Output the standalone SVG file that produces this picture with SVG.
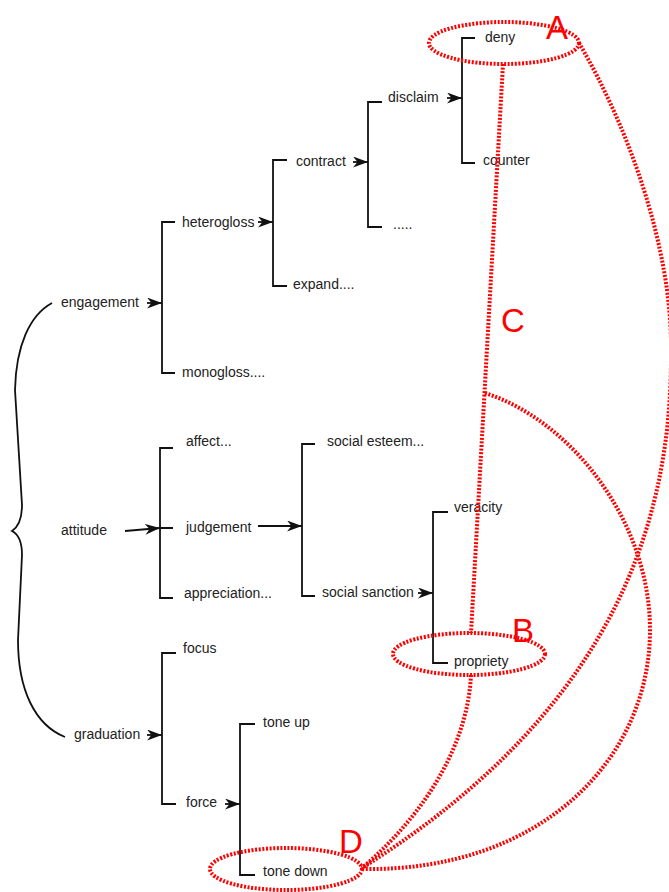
<svg xmlns="http://www.w3.org/2000/svg" width="669" height="892" viewBox="0 0 669 892">
  <style>
    .lbl { font-family: "Liberation Sans", Arial, sans-serif; font-size: 14px; fill: #222; }
    .br { fill: none; stroke: #111; stroke-width: 1.8; }
    .arr { fill: none; stroke: #111; stroke-width: 1.8; marker-end: url(#head); }
    .dot { fill: none; stroke: #ff0000; stroke-width: 4; stroke-dasharray: 2 1.6; }
    .tag { font-family: "Liberation Sans", Arial, sans-serif; font-size: 33px; fill: #ff0000; }
  </style>
  <defs>
    <marker id="head" viewBox="0 0 15 11" markerWidth="15" markerHeight="11" refX="15" refY="5.5" orient="auto" markerUnits="userSpaceOnUse">
      <path d="M0,0 L15,5.5 L0,11 L4.5,5.5 Z" fill="#111"/>
    </marker>
  </defs>
  <rect width="669" height="892" fill="#fff"/>

  <!-- brace joining the three systems -->
  <path class="br" d="M52,303 C30,315 16,345 15,390 L22,505 C22,520 18,527 12,531 C18,534 22,541 22,555 L18,640 C18,690 35,725 65,737"/>

  <!-- engagement branch -->
  <g id="engagement"><text class="lbl" x="61" y="307">engagement</text></g>
  <g id="heterogloss"><text class="lbl" x="182" y="227">heterogloss</text></g>
  <g id="monogloss"><text class="lbl" x="182" y="377">monogloss....</text></g>
  <g id="contract"><text class="lbl" x="296" y="166">contract</text></g>
  <g id="expand"><text class="lbl" x="293" y="289">expand....</text></g>
  <g id="disclaim"><text class="lbl" x="388" y="102">disclaim</text></g>
  <g id="more"><text class="lbl" x="393" y="229">.....</text></g>
  <g id="deny"><text class="lbl" x="485" y="42">deny</text></g>
  <g id="counter"><text class="lbl" x="483" y="165">counter</text></g>

  <!-- attitude branch -->
  <g id="attitude"><text class="lbl" x="61" y="535">attitude</text></g>
  <g id="affect"><text class="lbl" x="186" y="446">affect...</text></g>
  <g id="judgement"><text class="lbl" x="186" y="532">judgement</text></g>
  <g id="appreciation"><text class="lbl" x="184" y="598">appreciation...</text></g>
  <g id="social-esteem"><text class="lbl" x="327" y="446">social esteem...</text></g>
  <g id="social-sanction"><text class="lbl" x="322" y="597">social sanction</text></g>
  <g id="veracity"><text class="lbl" x="454" y="512">veracity</text></g>
  <g id="propriety"><text class="lbl" x="454" y="666">propriety</text></g>

  <!-- graduation branch -->
  <g id="graduation"><text class="lbl" x="74" y="739">graduation</text></g>
  <g id="focus"><text class="lbl" x="183" y="653">focus</text></g>
  <g id="force"><text class="lbl" x="186" y="807">force</text></g>
  <g id="tone-up"><text class="lbl" x="263" y="727">tone up</text></g>
  <g id="tone-down"><text class="lbl" x="263" y="876">tone down</text></g>

  <!-- system brackets and entry arrows -->
  <g id="connectors">
    <path class="br" d="M175,222 H162 V373 H175"/>
    <path class="br" d="M287,160 H273 V286 H287"/>
    <path class="br" d="M382,102 H368 V227 H382"/>
    <path class="br" d="M475,38 H462 V163 H475"/>
    <path class="br" d="M173,448 H160 V598 H173 M160,528 H173"/>
    <path class="br" d="M315,444 H302 V596 H315"/>
    <path class="br" d="M448,512 H433 V663 H448"/>
    <path class="br" d="M176,653 H162 V804 H176"/>
    <path class="br" d="M255,724 H240 V875 H255"/>

    <line class="arr" x1="147" y1="303" x2="162" y2="303"/>
    <line class="arr" x1="258" y1="222" x2="273" y2="222"/>
    <line class="arr" x1="353" y1="162" x2="368" y2="162"/>
    <line class="arr" x1="447" y1="98" x2="462" y2="98"/>
    <line class="arr" x1="125" y1="531" x2="160" y2="528"/>
    <line class="arr" x1="258" y1="526" x2="302" y2="526"/>
    <line class="arr" x1="418" y1="593" x2="433" y2="593"/>
    <line class="arr" x1="147" y1="735" x2="162" y2="735"/>
    <line class="arr" x1="225" y1="804" x2="240" y2="804"/>
  </g>

  <!-- red dotted annotations -->
  <g id="annotations">
    <ellipse class="dot" cx="504" cy="43" rx="75" ry="21"/>
    <ellipse class="dot" cx="469" cy="654" rx="76" ry="21"/>
    <ellipse class="dot" cx="286" cy="869" rx="76" ry="21"/>
    <path class="dot" d="M503,64 L471,633"/>
    <path class="dot" d="M471,675 C468,740 430,810 362,868"/>
    <path class="dot" d="M579,43 C630,130 672,250 671,350 C672,500 630,700 362,868"/>
    <path class="dot" d="M485,393 C570,420 650,520 650,630 C650,760 540,872 362,869"/>
    <text class="tag" x="546" y="39">A</text>
    <text class="tag" x="512" y="642">B</text>
    <text class="tag" x="501" y="332">C</text>
    <text class="tag" x="339" y="853">D</text>
  </g>
</svg>
